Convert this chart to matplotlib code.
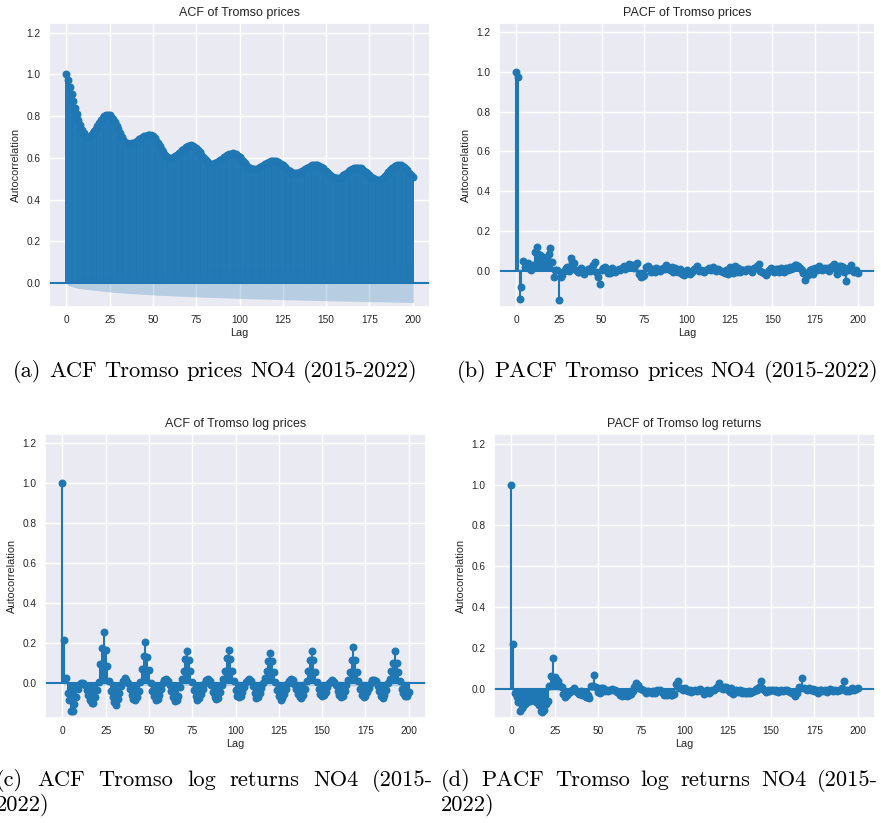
import numpy as np
import matplotlib
matplotlib.use("Agg")
import matplotlib.pyplot as plt
import matplotlib.transforms as mtransforms
import seaborn as sns

sns.set_theme(style="darkgrid")
plt.rcParams['font.family'] = ['Liberation Sans', 'DejaVu Sans']

blue = "#1f77b4"
nobs = 70000  # hourly observations 2015-2022
lags = np.arange(201)

# ACF of prices
acf_price = [
    1.000, 0.975, 0.940, 0.905, 0.872, 0.840, 0.810, 0.782, 0.757, 0.735, 0.718, 0.706, 0.700,
    0.702, 0.707, 0.716, 0.727, 0.740, 0.754, 0.767, 0.780, 0.791, 0.800, 0.805, 0.807,
    0.805, 0.798, 0.787, 0.772, 0.755, 0.737, 0.719, 0.702, 0.687, 0.676, 0.669, 0.667,
    0.668, 0.670, 0.673, 0.678, 0.683, 0.689, 0.694, 0.699, 0.704, 0.707, 0.709, 0.710,
    0.708, 0.703, 0.694, 0.682, 0.669, 0.655, 0.640, 0.627, 0.615, 0.606, 0.601, 0.599,
    0.600, 0.603, 0.608, 0.614, 0.622, 0.630, 0.637, 0.645, 0.651, 0.656, 0.659, 0.660,
    0.658, 0.654, 0.647, 0.638, 0.627, 0.616, 0.605, 0.594, 0.585, 0.578, 0.573, 0.572,
    0.573, 0.575, 0.579, 0.585, 0.591, 0.597, 0.603, 0.610, 0.615, 0.619, 0.621, 0.622,
    0.621, 0.617, 0.611, 0.603, 0.594, 0.584, 0.574, 0.565, 0.557, 0.551, 0.547, 0.546,
    0.547, 0.549, 0.552, 0.556, 0.561, 0.566, 0.571, 0.576, 0.580, 0.583, 0.585, 0.586,
    0.585, 0.582, 0.577, 0.571, 0.564, 0.556, 0.548, 0.541, 0.535, 0.530, 0.527, 0.526,
    0.527, 0.529, 0.532, 0.536, 0.541, 0.547, 0.552, 0.557, 0.561, 0.564, 0.566, 0.567,
    0.566, 0.563, 0.558, 0.551, 0.543, 0.535, 0.527, 0.519, 0.512, 0.507, 0.504, 0.503,
    0.504, 0.506, 0.510, 0.516, 0.522, 0.529, 0.535, 0.541, 0.547, 0.551, 0.553, 0.554,
    0.553, 0.550, 0.545, 0.539, 0.532, 0.524, 0.516, 0.509, 0.503, 0.498, 0.495, 0.494,
    0.495, 0.499, 0.505, 0.513, 0.521, 0.531, 0.541, 0.550, 0.557, 0.563, 0.567, 0.568,
    0.567, 0.563, 0.557, 0.549, 0.540, 0.530, 0.520, 0.510,
]

# PACF of prices
pacf_price = [
    1.000, 0.975, -0.141, -0.079, 0.050, 0.020, 0.032, 0.038, 0.010, 0.002,
    0.028, 0.095, 0.120, 0.087, 0.080, 0.070, 0.068, 0.050, 0.062, 0.084,
    0.114, 0.045, -0.030, 0.004, 0.006, -0.144, -0.030, -0.022, 0.000, 0.012,
    0.018, -0.003, 0.067, 0.045, 0.040, 0.002, -0.004, -0.006, 0.015, 0.004,
    -0.015, 0.000, 0.010, -0.003, 0.016, 0.028, 0.045, -0.006, -0.030, -0.064,
    0.004, 0.012, 0.018, 0.008, -0.012, -0.010, 0.012, 0.002, -0.008, 0.006,
    0.010, 0.004, 0.014, 0.022, 0.010, 0.018, 0.036, 0.024, 0.030, 0.016,
    0.034, 0.038, -0.018, -0.032, -0.026, -0.020, 0.018, 0.026, 0.012, -0.006,
    0.008, -0.004, 0.014, 0.010, -0.002, 0.006, 0.016, 0.008, 0.030, 0.018,
    0.004, 0.020, -0.004, 0.012, 0.002, -0.008, 0.010, -0.016, -0.020, -0.012,
    0.004, -0.010, -0.018, -0.006, 0.010, 0.016, 0.024, -0.002, 0.006, 0.000,
    -0.004, 0.002, 0.010, 0.016, 0.006, 0.020, 0.012, -0.002, 0.008, 0.004,
    0.000, -0.006, -0.010, 0.004, -0.014, 0.018, 0.010, -0.012, 0.022, -0.004,
    0.012, -0.008, 0.004, 0.002, -0.002, 0.010, 0.008, 0.004, -0.004, 0.016,
    0.012, 0.022, 0.036, 0.000, -0.006, -0.012, -0.022, -0.010, 0.004, 0.016,
    0.004, -0.004, 0.008, 0.010, -0.006, 0.012, 0.002, -0.008, 0.014, 0.006,
    0.020, 0.010, 0.016, 0.028, 0.030, 0.022, 0.014, 0.004, -0.010, -0.048,
    -0.014, -0.020, 0.006, 0.010, -0.016, 0.012, 0.002, 0.024, 0.010, 0.004,
    0.016, 0.008, 0.012, 0.000, 0.020, 0.026, 0.036, 0.010, -0.016, 0.022,
    0.026, 0.018, -0.006, -0.052, 0.004, 0.014, 0.032, 0.000, -0.004, 0.004,
    -0.012,
]

# ACF of log returns
acf_logret = [
    1.000, 0.218, 0.028, -0.047, -0.085, -0.137, -0.138, -0.103, -0.068, -0.030,
    -0.002, 0.002, 0.003, -0.008, -0.033, -0.058, -0.082, -0.100, -0.098, -0.070,
    -0.035, 0.005, 0.095, 0.175, 0.258, 0.165, 0.085, 0.010, -0.040, -0.070,
    -0.092, -0.108, -0.080, -0.050, -0.012, 0.012, 0.025, 0.018, 0.002, -0.028,
    -0.060, -0.080, -0.085, -0.070, -0.040, 0.005, 0.070, 0.135, 0.205, 0.132,
    0.068, 0.000, -0.040, -0.065, -0.085, -0.078, -0.060, -0.030, 0.000, 0.015,
    0.020, 0.012, -0.010, -0.040, -0.070, -0.090, -0.085, -0.062, -0.020, 0.020,
    0.060, 0.120, 0.160, 0.118, 0.060, 0.008, -0.035, -0.065, -0.082, -0.075,
    -0.055, -0.028, -0.002, 0.015, 0.022, 0.014, -0.010, -0.042, -0.068, -0.078,
    -0.072, -0.045, -0.010, 0.020, 0.060, 0.125, 0.165, 0.120, 0.060, 0.010,
    -0.035, -0.062, -0.070, -0.065, -0.045, -0.020, 0.005, 0.018, 0.020, 0.010,
    -0.015, -0.050, -0.075, -0.070, -0.050, -0.022, 0.000, 0.025, 0.062, 0.110,
    0.150, 0.112, 0.058, 0.008, -0.035, -0.065, -0.082, -0.075, -0.055, -0.030,
    -0.005, 0.012, 0.022, 0.015, -0.005, -0.030, -0.055, -0.070, -0.072, -0.060,
    -0.030, 0.010, 0.060, 0.118, 0.160, 0.118, 0.058, 0.008, -0.030, -0.055,
    -0.065, -0.060, -0.045, -0.020, 0.000, 0.012, 0.015, 0.008, -0.010, -0.040,
    -0.060, -0.068, -0.062, -0.040, -0.010, 0.015, 0.055, 0.115, 0.180, 0.115,
    0.058, 0.010, -0.030, -0.058, -0.070, -0.062, -0.045, -0.022, 0.000, 0.015,
    0.018, 0.010, -0.012, -0.040, -0.065, -0.072, -0.060, -0.035, 0.000, 0.020,
    0.060, 0.100, 0.160, 0.100, 0.058, 0.010, -0.028, -0.050, -0.065, -0.062,
    -0.045,
]

# PACF of log returns
pacf_logret = [
    1.000, 0.222, -0.020, -0.040, -0.060, -0.105, -0.092, -0.080, -0.070, -0.060,
    -0.050, -0.055, -0.040, -0.050, -0.060, -0.040, -0.075, -0.108, -0.110, -0.100,
    -0.070, -0.055, 0.015, 0.066, 0.152, 0.062, 0.050, 0.040, 0.018, 0.010,
    -0.022, -0.040, -0.030, -0.020, -0.012, -0.004, 0.004, -0.006, -0.014, -0.022,
    -0.010, -0.030, -0.022, -0.040, -0.030, -0.045, 0.015, 0.016, 0.070, 0.010,
    -0.012, -0.020, 0.008, 0.004, -0.008, -0.006, -0.010, -0.002, 0.002, -0.004,
    -0.006, -0.012, -0.020, -0.030, -0.034, -0.028, -0.024, -0.034, -0.030, -0.022,
    -0.010, 0.010, 0.032, 0.020, 0.004, 0.002, -0.004, -0.010, -0.018, -0.008,
    -0.014, -0.020, -0.008, -0.016, -0.004, -0.010, -0.006, -0.014, -0.026, -0.020,
    -0.030, -0.018, -0.026, -0.030, -0.022, 0.026, 0.038, 0.008, 0.004, -0.002,
    0.004, -0.004, -0.010, -0.006, -0.014, -0.008, -0.002, -0.010, -0.004, 0.000,
    -0.008, -0.022, -0.010, -0.004, -0.018, -0.012, -0.006, -0.002, 0.004, 0.010,
    0.030, 0.008, 0.000, 0.010, 0.012, -0.004, -0.014, 0.008, -0.024, -0.010,
    -0.002, -0.012, -0.006, -0.016, -0.010, -0.018, -0.020, -0.010, -0.016, -0.012,
    -0.008, 0.000, -0.006, 0.010, 0.040, 0.008, -0.006, -0.014, -0.004, -0.010,
    -0.002, -0.006, -0.010, -0.004, -0.012, -0.008, -0.004, -0.010, -0.006, -0.002,
    -0.008, -0.012, -0.016, -0.024, -0.034, -0.020, 0.010, 0.006, 0.055, 0.006,
    0.002, -0.004, 0.004, -0.006, 0.002, -0.010, -0.004, -0.016, -0.006, -0.002,
    -0.008, -0.004, -0.012, -0.006, 0.000, -0.004, -0.010, -0.002, -0.008, -0.004,
    -0.006, 0.006, 0.042, -0.010, -0.004, -0.008, -0.002, 0.004, -0.004, 0.002,
    0.006,
]

titles = ["ACF of Tromso prices", "PACF of Tromso prices",
          "ACF of Tromso log prices", "PACF of Tromso log returns"]


def bartlett_band(r):
    r = np.asarray(r)
    var = np.ones(len(r)) / nobs
    var[0] = 0
    var[2:] *= 1 + 2 * np.cumsum(r[1:-1] ** 2)
    return 1.96 * np.sqrt(var)


def pacf_band(r):
    w = np.full(len(r), 1.96 / np.sqrt(nobs))
    w[0] = 0
    return w


def corr_plot(ax, r, band, title, ylo, lw=1.5):
    r = np.asarray(r)
    ax.vlines(lags, 0, r, color=blue, lw=lw)
    ax.axhline(0, color=blue, lw=1.5)
    ax.plot(lags, r, "o", color=blue, markersize=4.7)
    x = lags[1:].astype(float)
    x[0] -= 0.5
    x[-1] += 0.5
    ax.fill_between(x, -band[1:], band[1:], color=blue, alpha=0.25, lw=0)
    ax.set_xlim(-10, 210)
    ax.set_ylim(ylo, 1.247)
    ax.set_xticks(np.arange(0, 201, 25))
    ax.set_yticks(np.arange(0, 1.21, 0.2))
    ax.tick_params(labelsize=7.3, length=0, pad=6, colors="#262626")
    ax.set_title(title, fontsize=9, pad=5, color="#262626")
    ax.set_xlabel("Lag", fontsize=7.8, labelpad=2, color="#262626")
    ax.set_ylabel("Autocorrelation", fontsize=7.8, labelpad=4, color="#262626")


fig = plt.figure(figsize=(8.81, 8.23), dpi=100)
W, H = 881, 823


def add_ax(left, top, right, bottom):
    return fig.add_axes([left / W, (H - bottom) / H, (right - left) / W, (bottom - top) / H])


ax_a = add_ax(49, 22.7, 430, 306.7)
ax_b = add_ax(499, 22.7, 875, 306.7)
ax_c = add_ax(45, 434, 426, 717.7)
ax_d = add_ax(494, 434, 875, 717.7)

corr_plot(ax_a, acf_price, bartlett_band(acf_price), titles[0], -0.112, lw=1.4)
corr_plot(ax_b, pacf_price, pacf_band(pacf_price), titles[1], -0.18)
corr_plot(ax_c, acf_logret, bartlett_band(acf_logret), titles[2], -0.172)
corr_plot(ax_d, pacf_logret, pacf_band(pacf_logret), titles[3], -0.139)

# captions in a LaTeX-like serif, words placed one by one
renderer = fig.canvas.get_renderer()
ident = mtransforms.IdentityTransform()


def widths(words, fs):
    out = []
    for w in words:
        t = fig.text(0, 0, w, fontsize=fs, family="cmr10", transform=ident)
        out.append(t.get_window_extent(renderer).width)
        t.remove()
    return out


def put_line(words, x0, ytop, fs, total=None):
    ws = widths(words, fs)
    if total is None:
        gap = 0.333 * fs * 100 / 72
    else:
        gap = (total - sum(ws)) / (len(words) - 1)
    x = x0
    for w, wd in zip(words, ws):
        fig.text(x, H - ytop, w, fontsize=fs, family="cmr10", transform=ident,
                 va="baseline", ha="left", color="black")
        x += wd + gap


cap_a = "(a) ACF Tromso prices NO4 (2015-2022)".split()
cap_b = "(b) PACF Tromso prices NO4 (2015-2022)".split()
cap_c = "(c) ACF Tromso log returns NO4 (2015-".split()
cap_d = "(d) PACF Tromso log returns NO4 (2015-".split()

fs = 14.0
ws = widths(cap_a, fs)
nat = sum(ws) + 0.333 * fs * 100 / 72 * (len(cap_a) - 1)
fs = fs * 405 / nat

put_line(cap_a, 13, 377, fs)
wb = widths(cap_b, fs)
nat_b = sum(wb) + 0.333 * fs * 100 / 72 * (len(cap_b) - 1)
put_line(cap_b, 878 - nat_b, 377, fs)

# left column caption runs past the page edge, as in the source
put_line(cap_c, -4, 786, fs, total=437)
put_line(["2022)"], -4, 811, fs)
put_line(cap_d, 441, 786, fs, total=437)
put_line(["2022)"], 441, 811, fs)

fig.savefig("out.png", dpi=100)
